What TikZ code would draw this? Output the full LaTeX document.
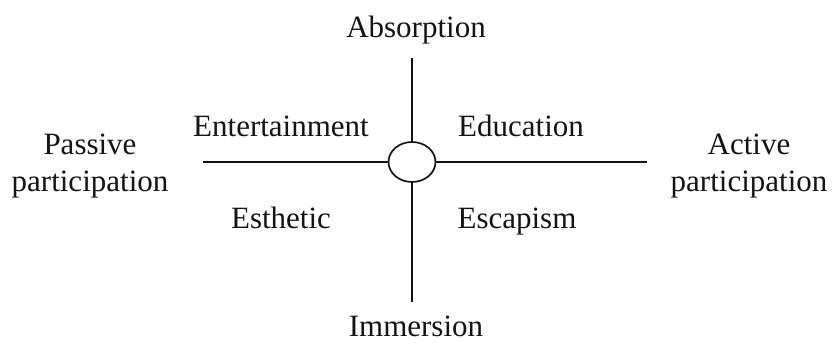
\documentclass[tikz,border=0pt]{standalone}
\usepackage{fontspec}
\setmainfont{Liberation Serif}
\usepackage{tikz}
\usetikzlibrary{shapes.geometric, positioning}
\definecolor{inkblack}{RGB}{20, 20, 20}
\tikzset{
  lbl/.style     = {anchor=base, align=center, text=inkblack, inner sep=0pt, font=\fontsize{31}{37}\selectfont},
  axisline/.style = {draw=inkblack, line width=1.3pt},
  hub/.style     = {ellipse, draw=inkblack, line width=1.7pt, minimum width=47pt, minimum height=40pt, inner sep=0pt},
}
\begin{document}
\begin{tikzpicture}[x=1pt, y=1pt]
  \useasboundingbox (0,0) rectangle (832,345);

  \node[hub] (hub) at (412,183) {};
  \coordinate (top)    at (412,287);
  \coordinate (bottom) at (412,43);
  \coordinate (left)   at (203,183);
  \coordinate (right)  at (647,183);

  \draw[axisline] (top) -- (hub);
  \draw[axisline] (hub) -- (bottom);
  \draw[axisline] (left) -- (hub);
  \draw[axisline] (hub) -- (right);

  \node[lbl] (absorb)  at (416,307) {Absorption};
  \node[lbl] (immerse) at (416,8)   {Immersion};
  % two-line labels sit on the baseline of their last line
  \node[lbl] (passive) at (90,153)  {Passive\\participation};
  \node[lbl] (active)  at (749,153) {Active\\participation};

  \node[lbl] (entert) at (281,208) {Entertainment};
  \node[lbl] (educ)   at (521,208) {Education};
  \node[lbl] (esth)   at (281,116) {Esthetic};
  \node[lbl] (escap)  at (517,116) {Escapism};
\end{tikzpicture}
\end{document}
